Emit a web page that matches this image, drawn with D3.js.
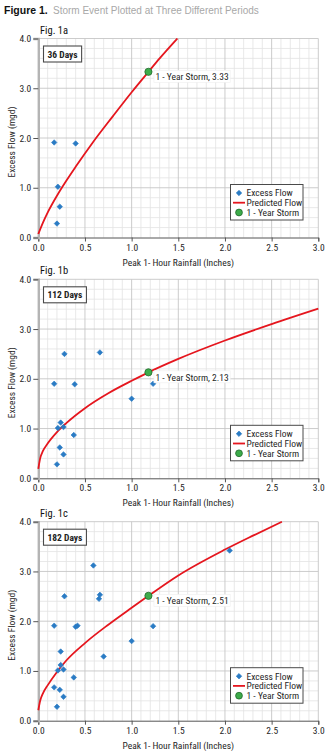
<!DOCTYPE html>
<html>
<head>
<meta charset="utf-8">
<script src="https://cdn.jsdelivr.net/npm/d3@7"></script>
<style>
  html, body { margin: 0; padding: 0; background: #fff; }
  svg { display: block; }
  .narrow { font-family: 'Liberation Sans Narrow', 'Arial Narrow', 'Roboto Condensed', sans-serif; }
</style>
</head>
<body>
<svg id="chart" width="330" height="752"></svg>
<script>
// ---- data ----
const panelNames = ["Fig. 1a", "Fig. 1b", "Fig. 1c"];
const periodLabels = ["36 Days", "112 Days", "182 Days"];

// observed excess flow, rainfall (in) vs flow (mgd)
const excessX1 = [0.17, 0.40, 0.21, 0.23, 0.20];
const excessY1 = [1.91, 1.89, 1.02, 0.62, 0.28];

const excessX2 = [0.17, 0.28, 0.39, 0.66, 0.24, 0.21, 0.27, 0.38, 0.23, 0.27, 0.20, 1.00, 1.23];
const excessY2 = [1.90, 2.50, 1.89, 2.53, 1.12, 1.01, 1.03, 0.87, 0.62, 0.48, 0.28, 1.60, 1.90];

const excessX3 = [0.17, 0.28, 0.40, 0.42, 0.59, 0.66, 0.65, 0.24, 0.21, 0.27, 0.38, 0.24, 0.70, 0.17, 0.23, 0.27, 0.20, 1.00, 1.23, 2.05];
const excessY3 = [1.91, 2.50, 1.89, 1.91, 3.12, 2.53, 2.45, 1.12, 1.01, 1.03, 0.87, 1.39, 1.29, 0.67, 0.62, 0.48, 0.28, 1.60, 1.90, 3.42];

// predicted flow curves
const predX1 = [0, 0.05, 0.10, 0.20, 0.30, 0.40, 0.58, 0.80, 1.00, 1.18, 1.30, 1.49];
const predY1 = [0.07, 0.30, 0.50, 0.84, 1.14, 1.42, 1.90, 2.44, 2.92, 3.33, 3.60, 4.00];

const predX2 = [0, 0.02, 0.05, 0.10, 0.20, 0.30, 0.50, 0.75, 1.00, 1.18, 1.50, 2.00, 2.50, 3.00];
const predY2 = [0.19, 0.40, 0.55, 0.70, 0.93, 1.11, 1.41, 1.71, 1.96, 2.13, 2.40, 2.77, 3.10, 3.41];

const predX3 = [0, 0.02, 0.05, 0.10, 0.20, 0.30, 0.50, 0.75, 1.00, 1.18, 1.50, 2.00, 2.30, 2.61];
const predY3 = [0.21, 0.40, 0.55, 0.71, 0.98, 1.21, 1.56, 1.93, 2.27, 2.51, 2.92, 3.44, 3.72, 4.00];

// 1-year storm
const stormX = [1.18, 1.18, 1.18];
const stormY = [3.33, 2.13, 2.51];

// axes
const xTicks = [0, 0.5, 1.0, 1.5, 2.0, 2.5, 3.0];
const yTicks = [0, 1.0, 2.0, 3.0, 4.0];
const xTitle = "Peak 1- Hour Rainfall (Inches)";
const yTitle = "Excess Flow (mgd)";
const legendLabels = ["Excess Flow", "Predicted Flow", "1 - Year Storm"];

const excessX = [excessX1, excessX2, excessX3];
const excessY = [excessY1, excessY2, excessY3];
const predX = [predX1, predX2, predX3];
const predY = [predY1, predY2, predY3];

// ---- layout ----
const svg = d3.select("#chart");
const plotLeft = 38.3, plotRight = 318.3, plotH = 199;
const panelTops = [38.5, 279.3, 521.7];

const BLUE = "#2a7bc4", RED = "#e5161e", GREEN = "#3dab4a", GREEN_DARK = "#1f6a2b";
const TXT = "#262626";

// heading
const head = svg.append("text").attr("x", 4).attr("y", 14);
head.append("tspan").text("Figure 1.")
  .attr("font-family", "'Liberation Sans', Arial, sans-serif")
  .attr("font-weight", 900).attr("font-size", 10.5).attr("fill", "#111");
svg.append("text").attr("x", 53).attr("y", 14)
  .attr("font-family", "'Liberation Sans', Arial, sans-serif")
  .attr("font-size", 10).attr("fill", "#a8a8a8")
  .text("Storm Event Plotted at Three Different Periods");

const x = d3.scaleLinear().domain([0, 3]).range([plotLeft, plotRight]);
const diamond = d3.symbol().type(d3.symbolSquare).size(15);

panelTops.forEach((top, i) => {
  const y = d3.scaleLinear().domain([0, 4]).range([top + plotH, top]);
  const g = svg.append("g");
  const y0 = y(0);

  // minor grid
  const minorX = d3.range(1, 30).map(v => v / 10).filter(v => Math.round(v * 10) % 5 !== 0);
  const minorY = d3.range(1, 20).map(v => v / 5).filter(v => Math.round(v * 5) % 5 !== 0);
  g.append("g").selectAll("line").data(minorX).join("line")
    .attr("x1", d => x(d)).attr("x2", d => x(d)).attr("y1", y(4)).attr("y2", y0)
    .attr("stroke", "#e3e3e3").attr("stroke-width", 0.8);
  g.append("g").selectAll("line").data(minorY).join("line")
    .attr("y1", d => y(d)).attr("y2", d => y(d)).attr("x1", plotLeft).attr("x2", plotRight)
    .attr("stroke", "#e3e3e3").attr("stroke-width", 0.8);
  // major grid
  g.append("g").selectAll("line").data(xTicks.slice(1)).join("line")
    .attr("x1", d => x(d)).attr("x2", d => x(d)).attr("y1", y(4)).attr("y2", y0)
    .attr("stroke", "#c6c6c6").attr("stroke-width", 0.9);
  g.append("g").selectAll("line").data(yTicks.slice(1)).join("line")
    .attr("y1", d => y(d)).attr("y2", d => y(d)).attr("x1", plotLeft).attr("x2", plotRight)
    .attr("stroke", "#c6c6c6").attr("stroke-width", 0.9);

  // x axis
  const xa = g.append("g").attr("transform", `translate(0,${y0})`)
    .call(d3.axisBottom(x).tickValues(xTicks).tickFormat(d3.format(".1f")).tickSizeOuter(0).tickSize(4));
  xa.select(".domain").attr("stroke", "#555").attr("stroke-width", 1);
  xa.selectAll(".tick line").attr("stroke", "#555");
  xa.selectAll("text").attr("class", "narrow").attr("font-size", 9.5).attr("fill", TXT).attr("dy", "0.86em").attr("y", 5);
  xa.attr("font-family", null);

  // y axis
  const ya = g.append("g").attr("transform", `translate(${plotLeft},0)`)
    .call(d3.axisLeft(y).tickValues(yTicks).tickFormat(d3.format(".1f")).tickSizeOuter(0).tickSize(5));
  ya.select(".domain").attr("stroke", "#b4b4b4").attr("stroke-width", 2.4);
  ya.selectAll(".tick line").attr("stroke", "#555");
  ya.selectAll("text").attr("class", "narrow").attr("font-size", 9.5).attr("fill", TXT).attr("x", -7);
  ya.attr("font-family", null);

  // axis titles
  g.append("text").attr("class", "narrow").attr("font-size", 9.5).attr("fill", TXT)
    .attr("text-anchor", "middle").attr("x", (plotLeft + plotRight) / 2).attr("y", y0 + 28)
    .text(xTitle);
  g.append("text").attr("class", "narrow").attr("font-size", 9.5).attr("fill", TXT)
    .attr("text-anchor", "middle")
    .attr("transform", `translate(14.5,${(y(4) + y0) / 2 + 4}) rotate(-90)`)
    .text(yTitle);

  // panel name
  g.append("text").attr("class", "narrow").attr("font-size", 10.5).attr("fill", "#111")
    .attr("x", 40).attr("y", top - 5).text(panelNames[i]);

  // period box
  const pb = g.append("g").attr("transform", `translate(43.5,${top + 7.5})`);
  const pbRect = pb.append("rect").attr("height", 16).attr("fill", "#fff")
    .attr("stroke", "#4a4a4a").attr("stroke-width", 1.1);
  const pbText = pb.append("text").attr("class", "narrow").attr("font-size", 9.5)
    .attr("font-weight", "bold").attr("fill", "#222").attr("x", 4).attr("y", 11.5)
    .text(periodLabels[i]);
  pbRect.attr("width", pbText.node().getComputedTextLength() + 8);

  // predicted flow
  const curve = predX[i].map((v, k) => [v, predY[i][k]]);
  g.append("path").datum(curve)
    .attr("d", d3.line().x(d => x(d[0])).y(d => y(d[1])).curve(d3.curveMonotoneX))
    .attr("fill", "none").attr("stroke", RED).attr("stroke-width", 1.8);

  // excess flow points
  const pts = excessX[i].map((v, k) => [v, excessY[i][k]]);
  g.append("g").selectAll("path").data(pts).join("path")
    .attr("d", diamond)
    .attr("transform", d => `translate(${x(d[0])},${y(d[1])}) rotate(45)`)
    .attr("fill", BLUE).attr("stroke", BLUE).attr("stroke-width", 0.6);

  // 1-year storm point + label
  const sx = x(stormX[i]), sy = y(stormY[i]);
  const lab = g.append("g").attr("transform", `translate(${sx + 7},${sy + 5})`);
  const labRect = lab.append("rect").attr("y", -6.5).attr("height", 12).attr("x", -1.5)
    .attr("fill", "#fff").attr("stroke", "#eee").attr("stroke-width", 0.6);
  const labText = lab.append("text").attr("class", "narrow").attr("font-size", 9.5)
    .attr("fill", TXT).attr("y", 3.4)
    .text(`1 - Year Storm, ${stormY[i].toFixed(2)}`);
  labRect.attr("width", labText.node().getComputedTextLength() + 3);
  g.append("circle").attr("cx", sx).attr("cy", sy).attr("r", 3.6)
    .attr("fill", GREEN).attr("stroke", GREEN_DARK).attr("stroke-width", 0.8);

  // legend
  const lgW = 72.5, lgH = 35.5;
  const lg = g.append("g").attr("transform", `translate(${plotRight - 15.3 - lgW},${y0 - 17.5 - lgH})`);
  lg.append("rect").attr("width", lgW).attr("height", lgH).attr("fill", "#fff")
    .attr("stroke", "#4a4a4a").attr("stroke-width", 1);
  const rows = [8.5, 18.2, 28];
  lg.append("path").attr("d", diamond)
    .attr("transform", `translate(8.5,${rows[0]}) rotate(45)`).attr("fill", BLUE).attr("stroke", BLUE).attr("stroke-width", 0.6);
  lg.append("line").attr("x1", 2.5).attr("x2", 14.5).attr("y1", rows[1]).attr("y2", rows[1])
    .attr("stroke", RED).attr("stroke-width", 1.8);
  lg.append("circle").attr("cx", 8.5).attr("cy", rows[2]).attr("r", 3.4)
    .attr("fill", GREEN).attr("stroke", GREEN_DARK).attr("stroke-width", 0.8);
  lg.selectAll("text.lab").data(legendLabels).join("text").attr("class", "narrow")
    .attr("font-size", 9.5).attr("fill", TXT).attr("x", 16).attr("y", (d, k) => rows[k] + 3.4)
    .text(d => d);
});
</script>
</body>
</html>
